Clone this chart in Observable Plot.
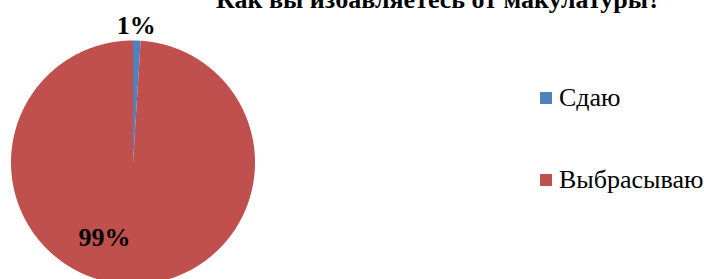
<!DOCTYPE html>
<html><head><meta charset="utf-8">
<script src="https://cdn.jsdelivr.net/npm/d3@7"></script>
<script src="https://cdn.jsdelivr.net/npm/@observablehq/plot@0.6"></script>
<style>
html,body{margin:0;padding:0;background:#fff;}
#wrap{position:relative;width:704px;height:279px;overflow:hidden;}
#wrap, #wrap *{font-family:"Liberation Serif","Times New Roman",serif !important;}
#title{position:relative;height:12px;}
#title span{position:absolute;left:216px;top:-13px;font-size:26px;line-height:26px;font-weight:bold;white-space:nowrap;color:#000;}
#legend{position:absolute;left:540px;top:82px;}
.item{display:flex;align-items:center;height:32px;margin-bottom:50px;font-size:26px;color:#000;white-space:nowrap;}
.sw{width:12px;height:12px;margin-right:7px;flex:none;}
</style>
</head><body>
<div id="wrap">
  <div id="title"><span></span></div>
  <div id="chart"></div>
  <div id="legend"></div>
</div>
<script>
const title = "Как вы избавляетесь от макулатуры?";
const categories = ["Сдаю", "Выбрасываю"];
const values = [1, 99];
const labels = ["1%", "99%"];
const colors = ["#4F81BD", "#C0504D"];

document.querySelector("#title span").textContent = title;

const pie = d3.pie().sort(null)(values);
const pts = [];
pie.forEach((a, i) => {
  pts.push({cat: categories[i], x: 0, y: 0});
  const n = Math.max(4, Math.ceil((a.endAngle - a.startAngle) / 0.005));
  for (let j = 0; j <= n; j++) {
    const t = a.startAngle + (a.endAngle - a.startAngle) * j / n;
    pts.push({cat: categories[i], x: Math.sin(t), y: Math.cos(t)});
  }
});
const labelData = pie.map((a, i) => {
  const mid = (a.startAngle + a.endAngle) / 2;
  const r = i === 0 ? 1.12 : 0.62;
  return {label: labels[i], x: Math.sin(mid) * r, y: Math.cos(mid) * r, i};
});

const H = 279 - 12;
const chart = Plot.plot({
  width: 704,
  height: H,
  margin: 0,
  x: {domain: [-1, 1], range: [10.5, 254.5], axis: null},
  y: {domain: [-1, 1], range: [272, 28], axis: null},
  color: {domain: categories, range: colors},
  style: {background: "transparent", overflow: "visible", fontFamily: "Liberation Serif, Times New Roman, serif"},
  marks: [
    Plot.line(pts, {x: "x", y: "y", z: "cat", fill: "cat", stroke: "none", curve: "linear-closed"}),
    Plot.text(labelData.filter(d => d.i === 0), {x: "x", y: "y", text: "label", fontSize: 26, fontWeight: "bold", fill: "#000", dx: -1}),
    Plot.text(labelData.filter(d => d.i === 1), {x: "x", y: "y", text: "label", fontSize: 26, fontWeight: "bold", fill: "#000", dx: -26})
  ]
});
document.getElementById("chart").appendChild(chart);

const leg = document.getElementById("legend");
categories.forEach((c, i) => {
  const it = document.createElement("div");
  it.className = "item";
  const sw = document.createElement("span");
  sw.className = "sw";
  sw.style.background = colors[i];
  const tx = document.createElement("span");
  tx.textContent = c;
  it.appendChild(sw); it.appendChild(tx);
  leg.appendChild(it);
});
</script>
</body></html>
